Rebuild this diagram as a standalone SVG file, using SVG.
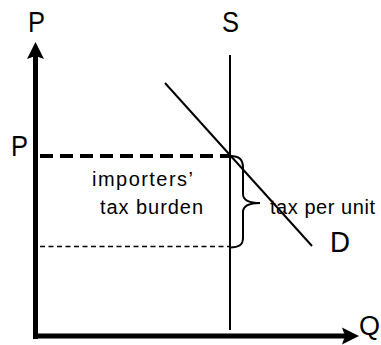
<svg xmlns="http://www.w3.org/2000/svg" width="381" height="345" viewBox="0 0 381 345">
<style>
.lbl{font-family:"Liberation Sans",Arial,sans-serif;fill:#000;}
.big{font-size:30px;}
.small{font-size:20px;}
.ln{stroke:#000;fill:none;}
</style>
<rect width="381" height="345" fill="#fff"/>
<g id="axes">
<line class="ln" x1="35.5" y1="56" x2="35.5" y2="339" stroke-width="5"/>
<polygon points="35.5,42 44,59 35.5,56 27,59" fill="#000"/>
<line class="ln" x1="33" y1="336" x2="346" y2="336" stroke-width="5"/>
<polygon points="359,336 342,344.5 345,336 342,327.5" fill="#000"/>
</g>
<g id="connectors">
<line id="supply" class="ln" x1="230" y1="55" x2="230" y2="330" stroke-width="2"/>
<line id="demand" class="ln" x1="165" y1="83" x2="312" y2="246" stroke-width="2"/>
<line id="price-high" class="ln" x1="40" y1="156" x2="230" y2="156" stroke-width="4" stroke-dasharray="13,7"/>
<line id="price-low" class="ln" x1="40" y1="246.5" x2="230" y2="246.5" stroke-width="1.5" stroke-dasharray="5,3.5"/>
<path id="brace" class="ln" stroke-width="2" d="M230,156 C240,156 243,160 243,168 L243,194 C243,200 248,203 260,203 C248,203 243,206 243,212 L243,238 C243,245 239,247.5 230,247.5"/>
</g>
<g id="labels">
<text class="lbl big" x="28" y="32" textLength="17" lengthAdjust="spacingAndGlyphs">P</text>
<text class="lbl big" x="222" y="32" textLength="17" lengthAdjust="spacingAndGlyphs">S</text>
<text class="lbl big" x="11" y="156" textLength="17" lengthAdjust="spacingAndGlyphs">P</text>
<text class="lbl big" x="330" y="252" textLength="20" lengthAdjust="spacingAndGlyphs">D</text>
<text class="lbl" x="359" y="335" font-size="27">Q</text>
<text class="lbl small" x="92" y="186" textLength="101">importers’</text>
<text class="lbl small" x="100" y="214" textLength="103">tax burden</text>
<text class="lbl small" x="270" y="214" textLength="105">tax per unit</text>
</g>
</svg>
